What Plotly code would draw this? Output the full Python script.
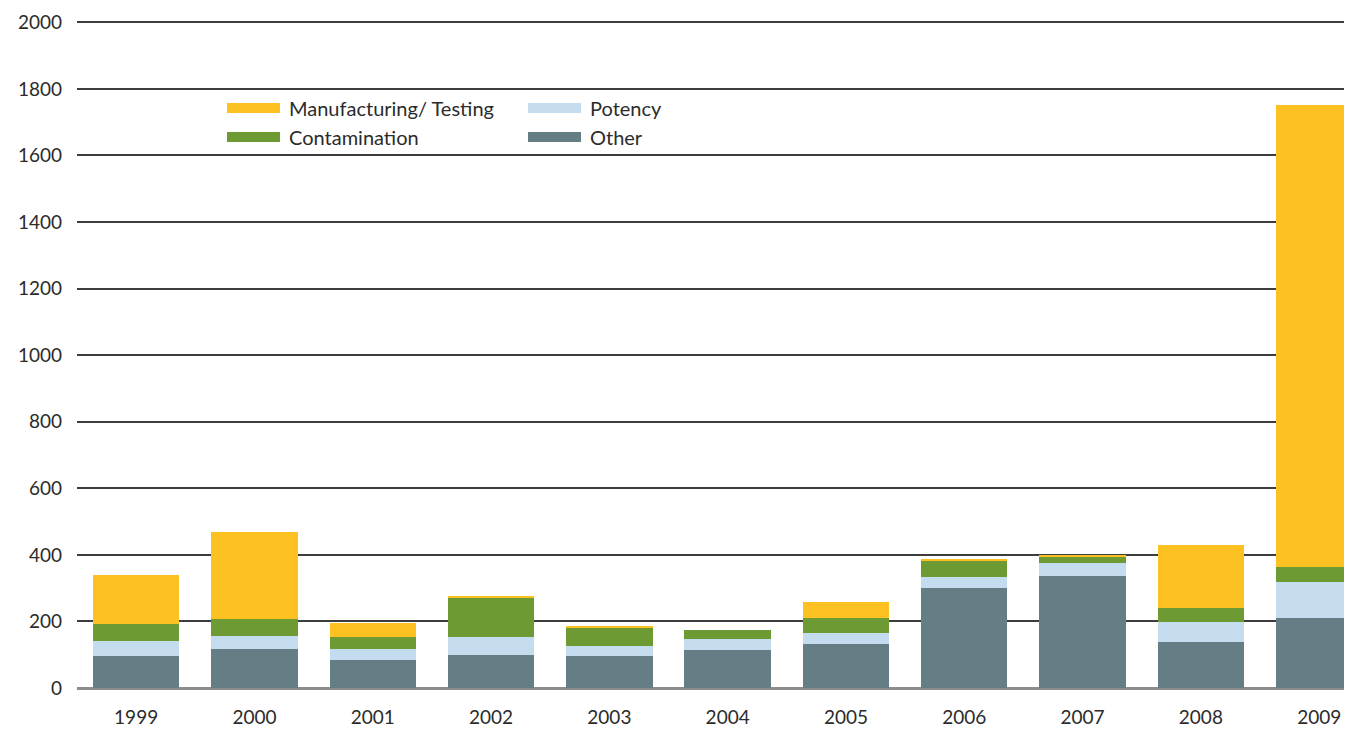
import plotly.graph_objects as go

# -------------------- DATA --------------------
years = ["1999", "2000", "2001", "2002", "2003", "2004",
         "2005", "2006", "2007", "2008", "2009"]
other = [97, 117, 84, 99, 96, 114, 132, 299, 338, 137, 209]
potency = [44, 39, 33, 54, 30, 33, 33, 36, 39, 60, 108]
contamination = [51, 51, 36, 120, 54, 27, 45, 48, 18, 42, 48]
manufacturing = [147, 261, 41, 3, 6, 0, 48, 6, 3, 192, 1386]

y_ticks = [0, 200, 400, 600, 800, 1000, 1200, 1400, 1600, 1800, 2000]

YELLOW = "#FDC121"
GREEN = "#6E9A34"
LIGHTBLUE = "#C5DCEE"
SLATE = "#657D84"

# page body has an 8px margin, so the figure is sized/offset for that
PAGE = 8
W, H = 1352, 730 - PAGE
L, T, B = 77 - PAGE, 21 - PAGE, 42
FONT = "Lato, 'Open Sans', sans-serif"

fig = go.Figure()

series = [
    ("Other", other, SLATE),
    ("Potency", potency, LIGHTBLUE),
    ("Contamination", contamination, GREEN),
    ("Manufacturing/ Testing", manufacturing, YELLOW),
]
for name, vals, color in series:
    fig.add_trace(go.Bar(
        x=years, y=vals, name=name,
        marker=dict(color=color, line=dict(width=0)),
        showlegend=False
    ))


# -------------------- LEGEND (drawn by hand) --------------------
def px_x(p):
    return (p - PAGE - L) / (W - L)


def px_y(p):
    return 1 - (p - PAGE - T) / (H - T - B)


legend_items = [
    ("Manufacturing/ Testing", YELLOW, 227, 108),
    ("Potency", LIGHTBLUE, 528, 108),
    ("Contamination", GREEN, 227, 137),
    ("Other", SLATE, 528, 137),
]
for label, color, lx, ly in legend_items:
    fig.add_shape(
        type="rect", xref="paper", yref="paper",
        x0=px_x(lx), x1=px_x(lx + 53),
        y0=px_y(ly - 5), y1=px_y(ly + 5),
        fillcolor=color, line=dict(width=0), layer="above"
    )
    fig.add_annotation(
        xref="paper", yref="paper",
        x=px_x(lx + 60), y=px_y(ly),
        text=label, showarrow=False,
        xanchor="left", yanchor="middle",
        font=dict(family=FONT, size=20, color="#2b2b2b")
    )

fig.update_layout(
    width=W, height=H,
    paper_bgcolor="white",
    plot_bgcolor="white",
    barmode="stack",
    bargap=0.27,
    margin=dict(l=L, r=0, t=T, b=B, autoexpand=False),
    font=dict(family=FONT, size=19, color="#2b2b2b"),
    xaxis=dict(
        range=[-0.5, 10.345],
        automargin=False,
        showgrid=False,
        showline=False,
        ticks="",
        ticklabelstandoff=16,
        tickfont=dict(size=19)
    ),
    yaxis=dict(
        range=[0, 2004],
        automargin=False,
        tickvals=y_ticks,
        showgrid=True,
        gridcolor="#3c3c3c",
        gridwidth=1.5,
        zeroline=True,
        zerolinecolor="#8c8c8c",
        zerolinewidth=3,
        showline=False,
        ticks="",
        ticklabelstandoff=14,
        tickfont=dict(size=19)
    )
)

fig.write_html("out.html")
